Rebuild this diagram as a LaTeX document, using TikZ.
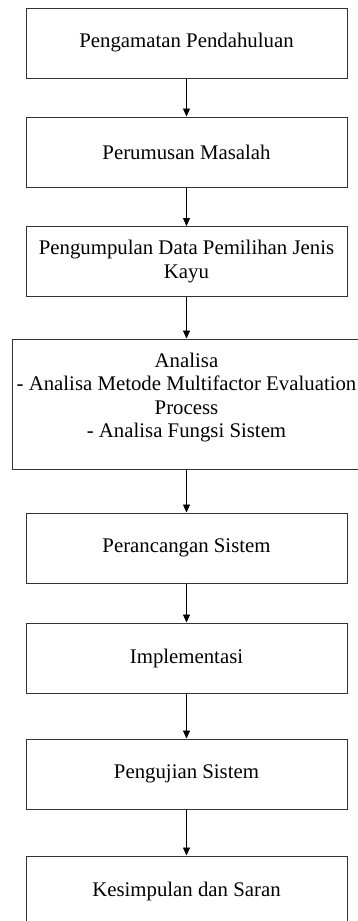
\documentclass[tikz,border=0pt]{standalone}
\usepackage{fontspec}
\setmainfont{Liberation Serif}
\usetikzlibrary{arrows.meta}
\begin{document}
\begin{tikzpicture}[x=1pt,y=-1pt,
  box/.style={draw=black!80, line width=1pt, minimum width=321pt, minimum height=70pt,
    inner sep=0pt, align=center, font=\fontsize{20.8}{23.5}\selectfont},
  arr/.style={-{Triangle[width=7pt,length=8pt]}, line width=0.8pt}]
\useasboundingbox (0,0) rectangle (358,921);
\node[box] (b1) at (186.5,43) {Pengamatan Pendahuluan};
\node[box] (b2) at (186.5,152) {Perumusan Masalah};
\node[box] (b3) at (186.5,261.5) {Pengumpulan Data Pemilihan Jenis\\Kayu};
\node[box, minimum width=349pt, minimum height=130pt] (b4) at (186.5,404)
  {Analisa\\- Analisa Metode Multifactor Evaluation\\Process\\- Analisa Fungsi Sistem\\[-6pt]\mbox{}};
\node[box] (b5) at (186.5,548) {Perancangan Sistem};
\node[box] (b6) at (186.5,658) {Implementasi};
\node[box] (b7) at (186.5,774) {Pengujian Sistem};
\node[box] (b8) at (186.5,891) {Kesimpulan dan Saran};
\draw[arr] (b1.south) -- (b2.north);
\draw[arr] (b2.south) -- (b3.north);
\draw[arr] (b3.south) -- (b4.north);
\draw[arr] (b4.south) -- (b5.north);
\draw[arr] (b5.south) -- (b6.north);
\draw[arr] (b6.south) -- (b7.north);
\draw[arr] (b7.south) -- (b8.north);
\end{tikzpicture}
\end{document}
